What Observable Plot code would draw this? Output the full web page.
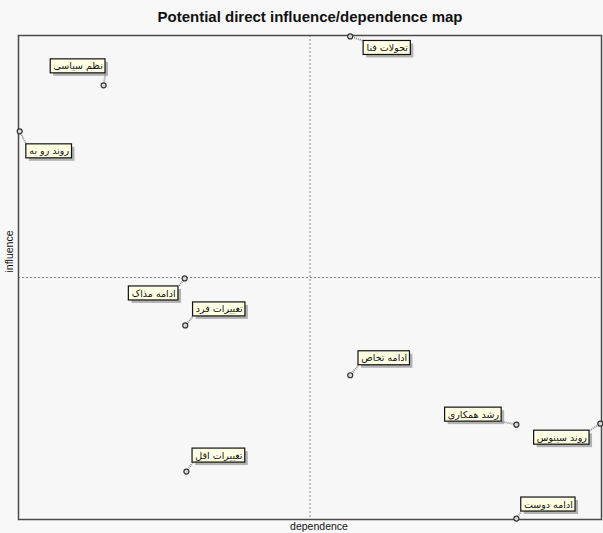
<!DOCTYPE html>
<html><head><meta charset="utf-8">
<script src="https://cdn.jsdelivr.net/npm/d3@7"></script>
<script src="https://cdn.jsdelivr.net/npm/@observablehq/plot@0.6"></script>
<style>
body{margin:0;background:#f8f8f8;}
#chart svg{display:block;}
</style></head>
<body><div id="chart"></div>
<script>
const title = "Potential direct influence/dependence map";
const xLabel = "dependence";
const yLabel = "influence";
const labels = ["تحولات فنا","نظم سیاسی","روند رو به","ادامه مذاک","تغییرات فرد","ادامه تخاص","رشد همکاری","روند سینوس","تغییرات اقل","ادامه دوست"];
const dependence = [56.9, 14.6, 0.2, 28.5, 28.6, 56.9, 85.4, 99.8, 28.8, 85.4];
const influence  = [99.8, 89.7, 80.2, 49.8, 40.1, 29.8, 19.6, 19.8, 9.9, 0.2];
// label box offsets (pixels, relative to point)
const offsetX = [37, -25.5, 29.5, -31, 34, 34, -43, -38.5, 32.5, 32];
const offsetY = [11.5, -19, 20, 15, -16, -17, -10, 14, -16, -14];

const W = 603, H = 533, mt = 35, mb = 14, ml = 18, mr = 2;
const xs = Plot.scale({x: {domain: [0, 100], range: [ml, W - mr]}});
const ys = Plot.scale({y: {domain: [0, 100], range: [H - mb, mt]}});

const ctx = document.createElement("canvas").getContext("2d");
const labelFont = "9px 'DejaVu Sans'";
ctx.font = labelFont;
const bh = 14;
const rows = labels.map((t, i) => {
  const px = xs.apply(dependence[i]), py = ys.apply(influence[i]);
  const cx = px + offsetX[i], cy = py + offsetY[i];
  const w = ctx.measureText(t).width + 8;
  return {
    label: t, x: dependence[i], y: influence[i],
    bx1: xs.invert(cx - w / 2), bx2: xs.invert(cx + w / 2),
    by1: ys.invert(cy + bh / 2), by2: ys.invert(cy - bh / 2),
    cx: xs.invert(cx), cy: ys.invert(cy),
    lx: xs.invert(cx - Math.sign(offsetX[i]) * w / 2),
    ly: ys.invert(cy - Math.sign(offsetY[i]) * bh / 2)
  };
});

const chart = Plot.plot({
  width: W, height: H,
  marginTop: mt, marginBottom: mb, marginLeft: ml, marginRight: mr,
  x: {domain: [0, 100], axis: null},
  y: {domain: [0, 100], axis: null},
  style: {background: "#f8f8f8", fontFamily: "'Liberation Sans', Arial, sans-serif"},
  marks: [
    Plot.frame({fill: "#f7f7f7"}),
    Plot.ruleX([50], {stroke: "#8a8a8a", strokeDasharray: "2,2", strokeWidth: 1}),
    Plot.ruleY([50], {stroke: "#8a8a8a", strokeDasharray: "2,2", strokeWidth: 1}),
    Plot.frame({stroke: "#4a4a4a", strokeWidth: 1.5}),
    Plot.link(rows, {x1: "x", y1: "y", x2: "lx", y2: "ly", stroke: "#8c8c8c", strokeWidth: 1.8, strokeDasharray: "1,1"}),
    Plot.rect(rows, {x1: "bx1", x2: "bx2", y1: "by1", y2: "by2", fill: "#7a7a7a", fillOpacity: 0.55, dx: 3, dy: 3}),
    Plot.rect(rows, {x1: "bx1", x2: "bx2", y1: "by1", y2: "by2", fill: "#ffffe4", stroke: "#111", strokeWidth: 1.2}),
    Plot.text(rows, {x: "cx", y: "cy", text: "label", fontSize: 9.5, fontFamily: "DejaVu Sans", fill: "#111"}),
    Plot.dot(rows, {x: "x", y: "y", r: 2.5, fill: "#d8d8d8", stroke: "#333", strokeWidth: 1.2}),
    Plot.text([title], {frameAnchor: "top", lineAnchor: "middle", dy: -18, text: d => d, fontSize: 15, fontWeight: "bold", fill: "#111"}),
    Plot.text([xLabel], {frameAnchor: "bottom", lineAnchor: "middle", dy: 7, dx: 9, text: d => d, fontSize: 10.5, fill: "#111"}),
    Plot.text([yLabel], {frameAnchor: "left", textAnchor: "middle", lineAnchor: "middle", dx: -9, dy: -26, rotate: -90, text: d => d, fontSize: 10.5, fill: "#111"})
  ]
});
document.getElementById("chart").append(chart);
</script>
</body></html>
